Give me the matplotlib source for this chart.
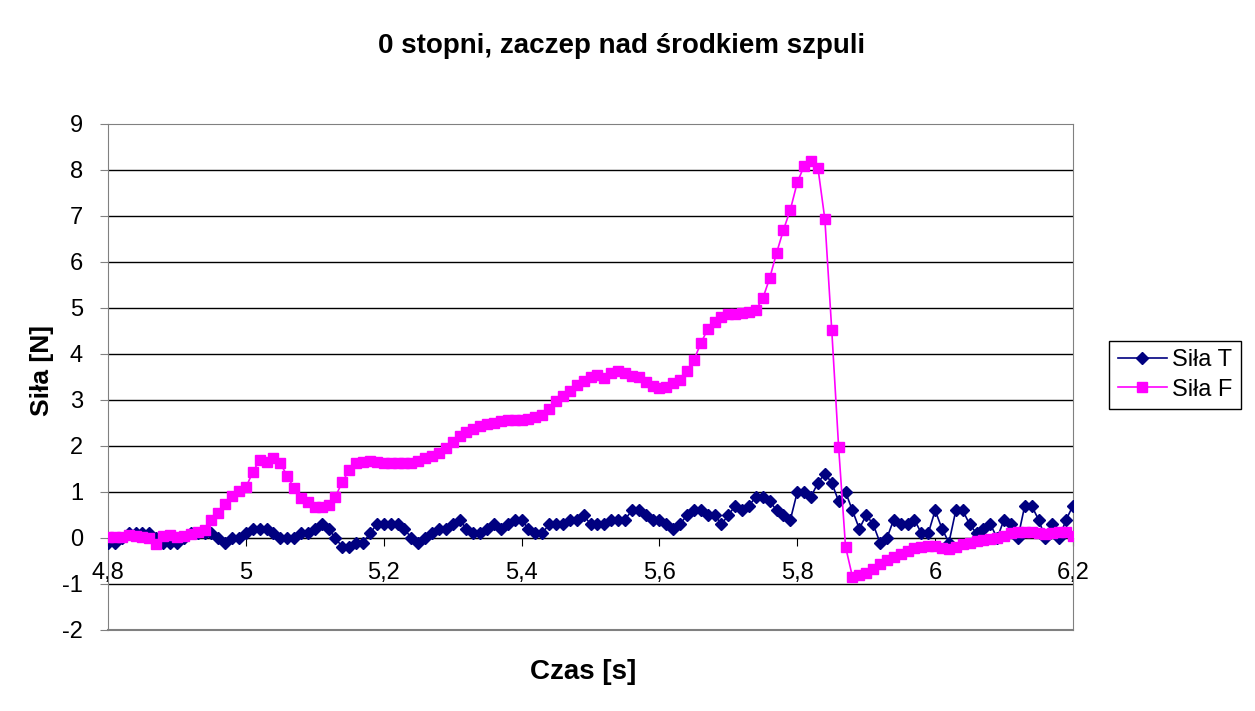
import numpy as np
import matplotlib
matplotlib.use("Agg")
import matplotlib.pyplot as plt
from matplotlib.ticker import FuncFormatter

plt.rcParams['font.family'] = ['Liberation Sans', 'DejaVu Sans']

# pomiar co 0,01 s od 4,8 s
t_start = 4.80
t_step = 0.01

sila_t = [
    -0.1, -0.1, 0.0, 0.1, 0.1, 0.1, 0.1, 0.0, -0.1, -0.1,
    -0.1, 0.0, 0.1, 0.1, 0.1, 0.1, 0.0, -0.1, 0.0, 0.0,
    0.1, 0.2, 0.2, 0.2, 0.1, 0.0, 0.0, 0.0, 0.1, 0.1,
    0.2, 0.3, 0.2, 0.0, -0.2, -0.2, -0.1, -0.1, 0.1, 0.3,
    0.3, 0.3, 0.3, 0.2, 0.0, -0.1, 0.0, 0.1, 0.2, 0.2,
    0.3, 0.4, 0.2, 0.1, 0.1, 0.2, 0.3, 0.2, 0.3, 0.4,
    0.4, 0.2, 0.1, 0.1, 0.3, 0.3, 0.3, 0.4, 0.4, 0.5,
    0.3, 0.3, 0.3, 0.4, 0.4, 0.4, 0.6, 0.6, 0.5, 0.4,
    0.4, 0.3, 0.2, 0.3, 0.5, 0.6, 0.6, 0.5, 0.5, 0.3,
    0.5, 0.7, 0.6, 0.7, 0.9, 0.9, 0.8, 0.6, 0.5, 0.4,
    1.0, 1.0, 0.9, 1.2, 1.4, 1.2, 0.8, 1.0, 0.6, 0.2,
    0.5, 0.3, -0.1, 0.0, 0.4, 0.3, 0.3, 0.4, 0.1, 0.1,
    0.6, 0.2, -0.1, 0.6, 0.6, 0.3, 0.1, 0.2, 0.3, 0.0,
    0.4, 0.3, 0.0, 0.7, 0.7, 0.4, 0.0, 0.3, 0.0, 0.4,
    0.7, 0.5,
]

sila_f = [
    0.03, 0.02, 0.03, 0.06, 0.05, 0.03, 0.0, -0.12, 0.04, 0.06,
    0.03, 0.05, 0.08, 0.12, 0.18, 0.39, 0.55, 0.74, 0.91, 1.03,
    1.1, 1.43, 1.7, 1.66, 1.75, 1.62, 1.35, 1.08, 0.86, 0.79,
    0.67, 0.67, 0.72, 0.9, 1.22, 1.48, 1.62, 1.66, 1.67, 1.66,
    1.63, 1.62, 1.62, 1.62, 1.64, 1.67, 1.73, 1.78, 1.84, 1.95,
    2.09, 2.22, 2.31, 2.36, 2.43, 2.48, 2.51, 2.54, 2.56, 2.57,
    2.57, 2.59, 2.62, 2.68, 2.8, 2.98, 3.08, 3.2, 3.33, 3.41,
    3.49, 3.54, 3.48, 3.58, 3.62, 3.58, 3.53, 3.5, 3.4, 3.3,
    3.26, 3.28, 3.36, 3.43, 3.62, 3.87, 4.23, 4.54, 4.7, 4.81,
    4.86, 4.88, 4.9, 4.91, 4.96, 5.21, 5.65, 6.2, 6.7, 7.14,
    7.73, 8.09, 8.2, 8.04, 6.93, 4.52, 1.97, -0.19, -0.84, -0.8,
    -0.77, -0.67, -0.57, -0.48, -0.41, -0.34, -0.28, -0.22, -0.19, -0.17,
    -0.17, -0.22, -0.24, -0.2, -0.14, -0.1, -0.07, -0.04, -0.02, 0.0,
    0.04, 0.1, 0.13, 0.14, 0.14, 0.1, 0.09, 0.1, 0.12, 0.12,
    0.05,
]

x_ticks = [4.8, 5.0, 5.2, 5.4, 5.6, 5.8, 6.0, 6.2]
y_ticks = [-2, -1, 0, 1, 2, 3, 4, 5, 6, 7, 8, 9]

czas_t = t_start + t_step * np.arange(len(sila_t))
czas_f = t_start + t_step * np.arange(len(sila_f))

fig = plt.figure(figsize=(12.55, 7.11), dpi=100)
ax = fig.add_axes([108 / 1255, 1 - 630 / 711, 965 / 1255, 506 / 711])

ax.plot(czas_t, sila_t, color='#000080', lw=1.2, marker='D', ms=6,
        mec='#000080', mfc='#000080', label='Siła T', zorder=3)
ax.plot(czas_f, sila_f, color='#FF00FF', lw=1.2, marker='s', ms=6.5,
        mec='#FF00FF', mfc='#FF00FF', label='Siła F', zorder=4)

ax.set_xlim(4.8, 6.2)
ax.set_ylim(-2, 9)
ax.set_xticks(x_ticks)
ax.set_yticks(y_ticks)
ax.xaxis.set_major_formatter(FuncFormatter(lambda v, p: f"{v:g}".replace('.', ',')))
ax.yaxis.set_major_formatter(FuncFormatter(lambda v, p: f"{v:g}"))

# linie siatki jak w Excelu
for yv in y_ticks[1:-1]:
    ax.axhline(yv, color='black', lw=1, zorder=1)

ax.spines['bottom'].set_position(('data', 0))
ax.spines['bottom'].set_color('black')
for s in ['left', 'right', 'top']:
    ax.spines[s].set_color('#808080')
ax.axhline(-2, color='#808080', lw=1.5, clip_on=False, zorder=2)

ax.tick_params(axis='x', direction='out', length=6, pad=11, labelsize=17, color='black')
ax.tick_params(axis='y', direction='out', length=6, pad=12, labelsize=17, color='#808080')

fig.text(622 / 1255, 1 - 46 / 711, '0 stopni, zaczep nad środkiem szpuli',
         ha='center', va='center', fontsize=20, fontweight='bold')
fig.text(583 / 1255, 1 - 672 / 711, 'Czas [s]', ha='center', va='center',
         fontsize=20, fontweight='bold')
fig.text(42 / 1255, 1 - 370 / 711, 'Siła [N]', ha='center', va='center',
         fontsize=19, fontweight='bold', rotation=90)

leg = fig.legend(loc='center', bbox_to_anchor=(1175 / 1255, 1 - 375 / 711),
                 fontsize=17, frameon=True, fancybox=False, framealpha=1,
                 edgecolor='black', handlelength=2.1, handletextpad=0.2,
                 borderpad=0.35, labelspacing=0.3, borderaxespad=0)
leg.get_frame().set_linewidth(1)

fig.savefig('out.png', dpi=100)
